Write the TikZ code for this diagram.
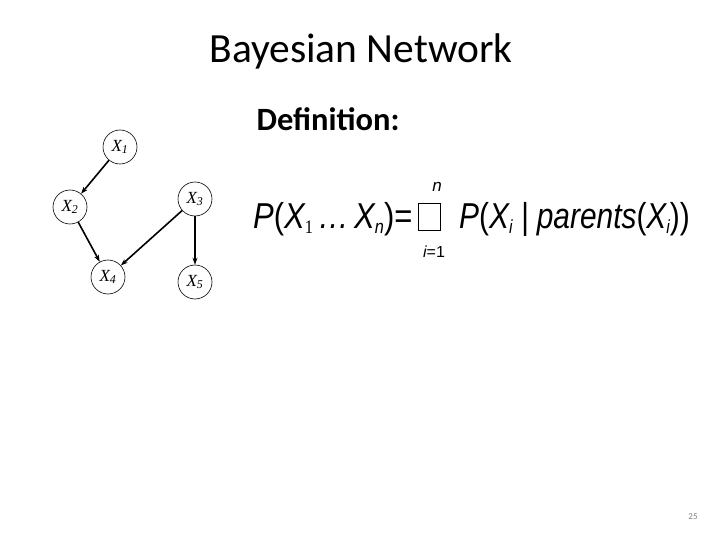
\documentclass[tikz,border=0pt]{standalone}
\usepackage{fontspec}
\setmainfont{Carlito}
\newfontfamily\formfont{Liberation Sans}
\newfontfamily\nodefont{Liberation Serif}
\usetikzlibrary{arrows.meta}
\newcommand{\fsub}[1]{{\fontsize{19}{19}\selectfont\raisebox{-5pt}{#1}}}
\begin{document}
\begin{tikzpicture}[x=1pt,y=-1pt,
  bnode/.style={draw,circle,line width=0.6pt,minimum size=34pt,inner sep=0pt,font=\nodefont\fontsize{17}{17}\selectfont\itshape},
  bedge/.style={line width=1.6pt,-{Stealth[length=7pt,width=5pt]}},
  ftext/.style={anchor=base west,inner sep=0pt,font=\formfont\fontsize{36}{36}\selectfont\itshape}]
\useasboundingbox[fill=white] (0,0) rectangle (720,540);
\node[font=\fontsize{41.5}{41.5}\selectfont] (title) at (361,51) {Bayesian Network};
\node[font=\bfseries\fontsize{32.5}{32.5}\selectfont,anchor=west] (def) at (253,119) {Definition:};
% network
\node[bnode] (x1) at (120,147) {X\textsubscript{\itshape 1}};
\node[bnode] (x2) at (70,207) {X\textsubscript{\itshape 2}};
\node[bnode] (x3) at (195,199) {X\textsubscript{\itshape 3}};
\node[bnode] (x4) at (108,277) {X\textsubscript{\itshape 4}};
\node[bnode] (x5) at (195,282) {X\textsubscript{\itshape 5}};
\draw[bedge] (x1) -- (x2);
\draw[bedge] (x2) -- (x4);
\draw[bedge] (x3) -- (x4);
\draw[bedge] (x3) -- (x5);
% formula
\node[ftext] (lhs) at (253,229) {\scalebox{0.86}[1]{P{\upshape(}X\fsub{\nodefont\upshape 1}\,…\,X\fsub{n}{\upshape)=}}};
\draw[line width=0.6pt] (418,203) rectangle (440,230);
\node[anchor=base,inner sep=0pt,font=\formfont\fontsize{17}{17}\selectfont\itshape] (n) at (437,192) {n};
\node[anchor=base,inner sep=0pt,font=\formfont\fontsize{16}{16}\selectfont] (i1) at (434,258) {\itshape i\upshape =1};
\node[ftext] (rhs) at (459,229) {\scalebox{0.83}[1]{P{\upshape(}X\fsub{i} | parents{\upshape(}X\fsub{i}{\upshape))}}};
\node[font=\fontsize{9}{9}\selectfont,text=gray] (pg) at (693,517) {25};
\end{tikzpicture}
\end{document}
